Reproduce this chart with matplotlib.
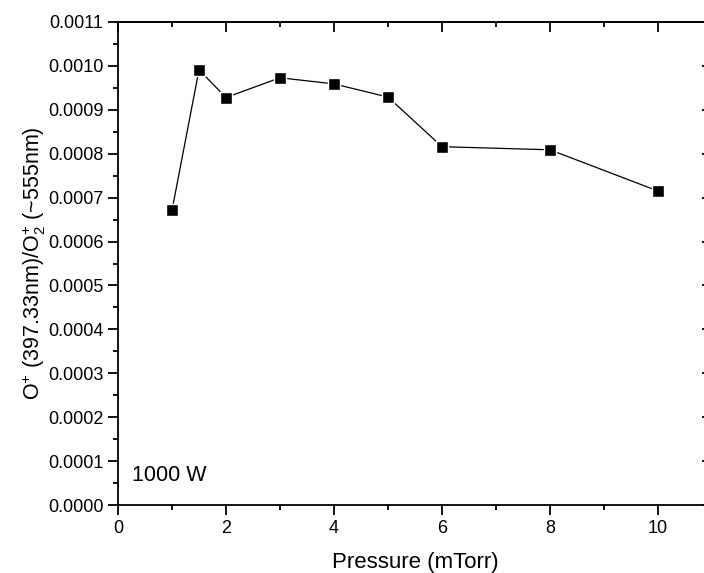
import matplotlib
matplotlib.use("Agg")
import matplotlib.pyplot as plt
from matplotlib.ticker import MultipleLocator, FormatStrFormatter

pressure = [1, 1.5, 2, 3, 4, 5, 6, 8, 10]
ratio = [0.000671, 0.000991, 0.000928, 0.000973, 0.000959, 0.000929, 0.000816, 0.000809, 0.000715]

plt.rcParams['font.family'] = ['Liberation Sans', 'DejaVu Sans']
plt.rcParams['mathtext.fontset'] = 'custom'
plt.rcParams['mathtext.rm'] = 'Liberation Sans'
plt.rcParams['mathtext.it'] = 'Liberation Sans'

fig = plt.figure(figsize=(7.04, 5.73), dpi=100)
ax = fig.add_axes([118/704, (573-505)/573, (712-118)/704, (505-22)/573])

ax.plot(pressure, ratio, color='black', lw=0.9, marker='s', ms=8,
        mfc='black', mec='white', mew=1.0)

ax.set_xlim(0, 11)
ax.set_ylim(0, 0.0011)
ax.xaxis.set_major_locator(MultipleLocator(2))
ax.xaxis.set_minor_locator(MultipleLocator(1))
ax.yaxis.set_major_locator(MultipleLocator(0.0001))
ax.yaxis.set_minor_locator(MultipleLocator(0.00005))
ax.yaxis.set_major_formatter(FormatStrFormatter('%.4f'))

ax.tick_params(which='major', direction='out', length=7, width=1.3, labelsize=13)
ax.tick_params(which='minor', direction='out', length=3.5, width=1.3)
for s in ax.spines.values():
    s.set_linewidth(1.3)

topax = ax.secondary_xaxis('top')
rightax = ax.secondary_yaxis('right')
topax.xaxis.set_major_locator(MultipleLocator(2))
topax.xaxis.set_minor_locator(MultipleLocator(1))
rightax.yaxis.set_major_locator(MultipleLocator(0.0001))
rightax.yaxis.set_minor_locator(MultipleLocator(0.00005))
for sec in (topax, rightax):
    sec.tick_params(which='major', direction='in', length=7, width=1.3,
                    labelleft=False, labelright=False, labeltop=False, labelbottom=False)
    sec.tick_params(which='minor', direction='in', length=3.5, width=1.3)
    for s in sec.spines.values():
        s.set_linewidth(1.3)

ax.set_xlabel('Pressure (mTorr)', fontsize=16, labelpad=11)
ax.set_ylabel(r'O$^{+}$ (397.33nm)/O$_{2}^{+}$ (~555nm)', fontsize=15.5, labelpad=0)

ax.text(0.0236, 0.0497, '1000 W', transform=ax.transAxes, fontsize=15.5,
        ha='left', va='baseline')

fig.savefig('out.png', dpi=100)
